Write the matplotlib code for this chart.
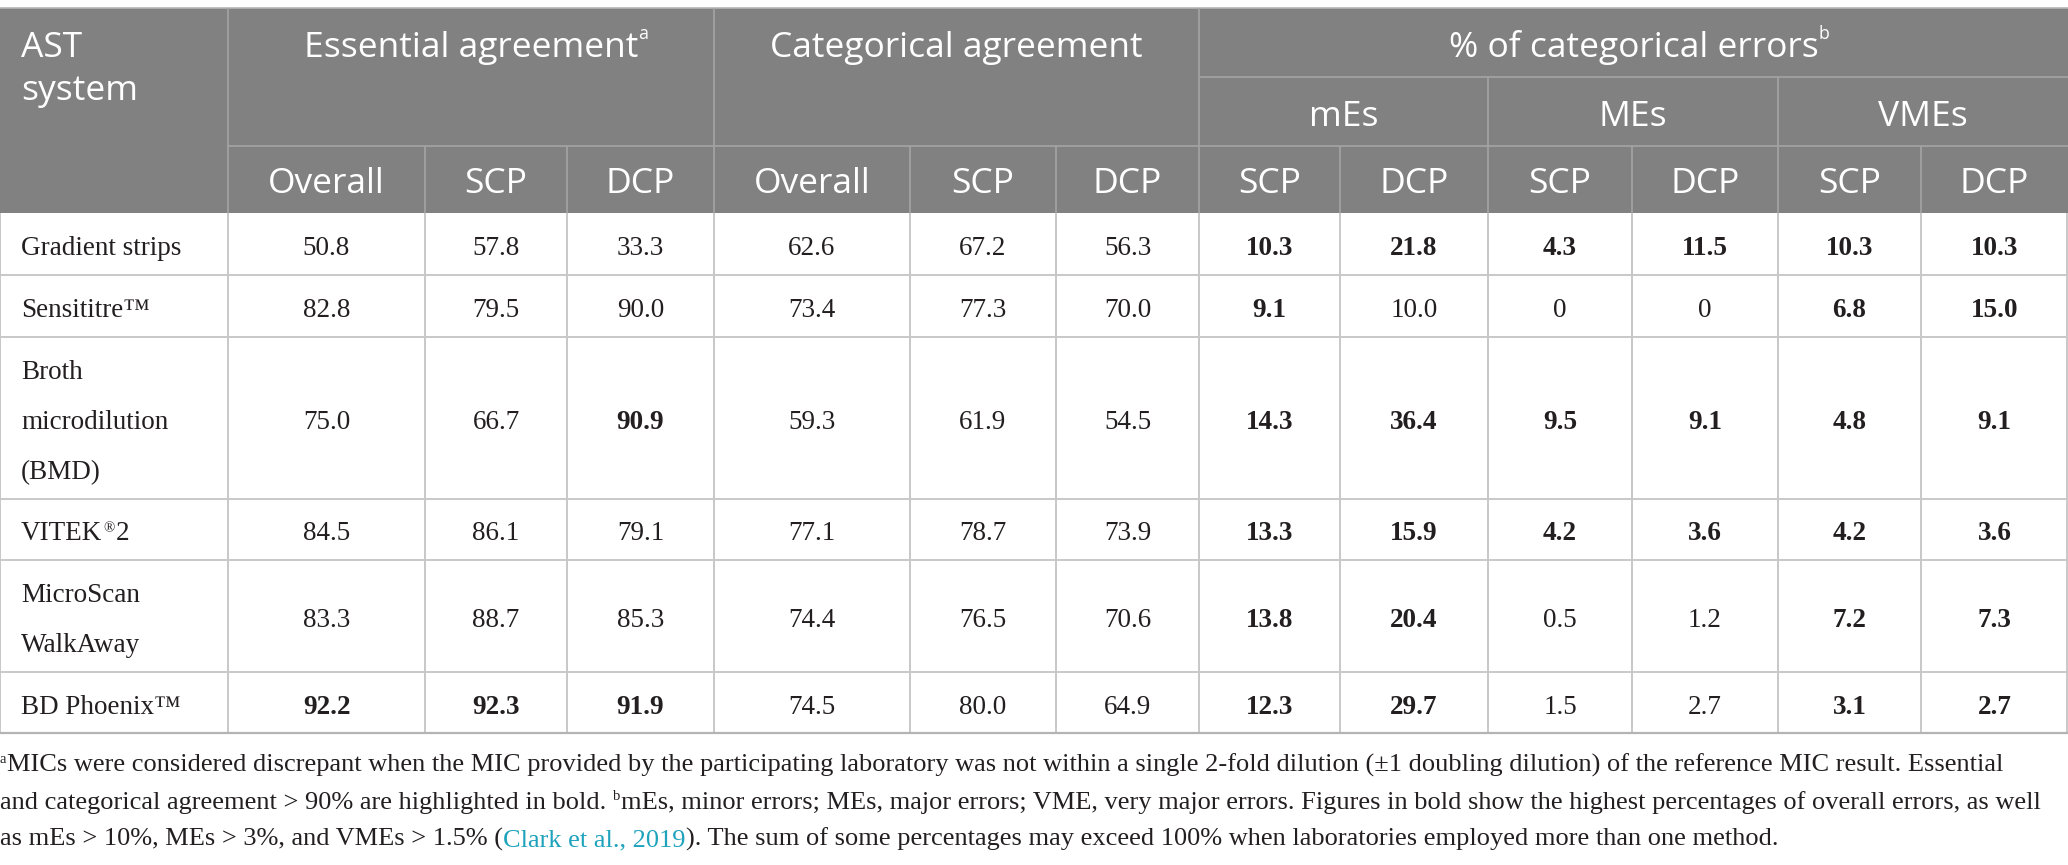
import matplotlib
matplotlib.use("Agg")
import matplotlib.pyplot as plt
from matplotlib.patches import Rectangle

# ---- data ----
systems = [["Gradient strips"], ["Sensititre™"], ["Broth", "microdilution", "(BMD)"],
           ["VITEK®2"], ["MicroScan", "WalkAway"], ["BD Phoenix™"]]

ea_all = [50.8, 82.8, 75.0, 84.5, 83.3, 92.2]
ea_scp = [57.8, 79.5, 66.7, 86.1, 88.7, 92.3]
ea_dcp = [33.3, 90.0, 90.9, 79.1, 85.3, 91.9]
ca_all = [62.6, 73.4, 59.3, 77.1, 74.4, 74.5]
ca_scp = [67.2, 77.3, 61.9, 78.7, 76.5, 80.0]
ca_dcp = [56.3, 70.0, 54.5, 73.9, 70.6, 64.9]
mes_scp = [10.3, 9.1, 14.3, 13.3, 13.8, 12.3]
mes_dcp = [21.8, 10.0, 36.4, 15.9, 20.4, 29.7]
mjr_scp = [4.3, 0, 9.5, 4.2, 0.5, 1.5]
mjr_dcp = [11.5, 0, 9.1, 3.6, 1.2, 2.7]
vme_scp = [10.3, 6.8, 4.8, 4.2, 7.2, 3.1]
vme_dcp = [10.3, 15.0, 9.1, 3.6, 7.3, 2.7]

# which cells are printed in bold
b_ea_all = [0, 0, 0, 0, 0, 1]
b_ea_scp = [0, 0, 0, 0, 0, 1]
b_ea_dcp = [0, 0, 1, 0, 0, 1]
b_ca_all = [0, 0, 0, 0, 0, 0]
b_ca_scp = [0, 0, 0, 0, 0, 0]
b_ca_dcp = [0, 0, 0, 0, 0, 0]
b_mes_scp = [1, 1, 1, 1, 1, 1]
b_mes_dcp = [1, 0, 1, 1, 1, 1]
b_mjr_scp = [1, 0, 1, 1, 0, 0]
b_mjr_dcp = [1, 0, 1, 1, 0, 0]
b_vme_scp = [1, 1, 1, 1, 1, 1]
b_vme_dcp = [1, 1, 1, 1, 1, 1]

columns = [ea_all, ea_scp, ea_dcp, ca_all, ca_scp, ca_dcp,
           mes_scp, mes_dcp, mjr_scp, mjr_dcp, vme_scp, vme_dcp]
bolds = [b_ea_all, b_ea_scp, b_ea_dcp, b_ca_all, b_ca_scp, b_ca_dcp,
         b_mes_scp, b_mes_dcp, b_mjr_scp, b_mjr_dcp, b_vme_scp, b_vme_dcp]

sub_heads = ["Overall", "SCP", "DCP", "Overall", "SCP", "DCP",
             "SCP", "DCP", "SCP", "DCP", "SCP", "DCP"]
err_heads = ["mEs", "MEs", "VMEs"]

foot1 = "MICs were considered discrepant when the MIC provided by the participating laboratory was not within a single 2-fold dilution (±1 doubling dilution) of the reference MIC result. Essential"
foot2a = "and categorical agreement > 90% are highlighted in bold."
foot2b = "mEs, minor errors; MEs, major errors; VME, very major errors. Figures in bold show the highest percentages of overall errors, as well"
foot3a = "as mEs > 10%, MEs > 3%, and VMEs > 1.5% ("
foot3b = "Clark et al., 2019"
foot3c = "). The sum of some percentages may exceed 100% when laboratories employed more than one method."

# ---- layout ----
W, H = 2068, 865
xe = [0, 228, 425, 567, 714, 910, 1056, 1199, 1340, 1488, 1632, 1778, 1921, 2068]
top, h1, h2, h3 = 8, 77, 146, 213
ye = [275, 337, 499, 560, 672, 733]

HDR = "#808180"
HLINE = "#a3a4a3"
BLINE = "#c8c8c8"
INK = "#231f20"
LINK = "#1fa3bd"
SANS = "Open Sans"
SERIF = "Liberation Serif"
HFS = 25.5
BFS = 19.5

fig = plt.figure(figsize=(W / 100, H / 100), dpi=100)
ax = fig.add_axes([0, 0, 1, 1])
ax.set_xlim(0, W)
ax.set_ylim(H, 0)
ax.axis("off")
rend = fig.canvas.get_renderer()


def width(t):
    return t.get_window_extent(rend).width


def run(x, y, parts, ha="left"):
    # parts: (text, gap_before, dict of text kwargs)
    ts = []
    for s, gap, kw in parts:
        kw = dict(kw)
        dy = kw.pop("dy", 0)
        ts.append((ax.text(0, y + dy, s, va="baseline", ha="left", **kw), gap))
    total = sum(width(t) + g for t, g in ts)
    cx = x - total / 2 if ha == "center" else x
    for t, g in ts:
        cx += g
        t.set_x(cx)
        cx += width(t)
    return total


# header background and grid
ax.add_patch(Rectangle((0, top), W, h3 - top, color=HDR, lw=0, zorder=0))
ax.hlines(top, 0, W, color="#b5b5b5", lw=1.2)
ax.hlines(h2, xe[1], W, color=HLINE, lw=1.2)
ax.hlines(h1, xe[7], W, color=HLINE, lw=1.2)
for i, x in enumerate(xe[1:-1], start=1):
    if i in (1, 4, 7):
        y0 = top
    elif i in (9, 11):
        y0 = h1
    else:
        y0 = h2
    ax.vlines(x, y0, h3, color=HLINE, lw=1.2)

hkw = dict(color="white", fontsize=HFS, family=SANS)
skw = dict(color="white", fontsize=HFS * 0.5, family=SANS)
ax.text(21, 57, "AST", va="baseline", **hkw)
ax.text(21, 100, "system", va="baseline", **hkw)

for label, sup, c0, c1 in [("Essential agreement", "a", 1, 4),
                           ("Categorical agreement", None, 4, 7),
                           ("% of categorical errors", "b", 7, 13)]:
    cx = (xe[c0] + xe[c1]) / 2
    t = ax.text(cx, h1 - 20, label, ha="center", va="baseline", **hkw)
    if sup:
        bb = t.get_window_extent(rend)
        ax.text(bb.x1, h1 - 38, sup, ha="left", va="baseline", **skw)

for k, lab in enumerate(err_heads):
    cx = (xe[7 + 2 * k] + xe[9 + 2 * k]) / 2
    ax.text(cx, h2 - 20, lab, ha="center", va="baseline", **hkw)

for j, lab in enumerate(sub_heads):
    cx = (xe[j + 1] + xe[j + 2]) / 2
    ax.text(cx, h3 - 20, lab, ha="center", va="baseline", **hkw)

# body grid
ax.vlines(xe[:-1], h3, ye[-1], color=BLINE, lw=1.4)
ax.vlines(W - 1, h3, ye[-1], color=BLINE, lw=1.4)
ax.hlines(ye[:-1], 0, W, color=BLINE, lw=1.4)
ax.hlines(ye[-1], 0, W, color="#b4b4b4", lw=1.6)

bkw = dict(color=INK, fontsize=BFS, family=SERIF)
row_top = [h3] + ye[:-1]
for r, name in enumerate(systems):
    cy = (row_top[r] + ye[r]) / 2
    n = len(name)
    for i, line in enumerate(name):
        by = cy + 11 + (i - (n - 1) / 2) * 50
        if "®" in line:
            a, b = line.split("®")
            run(21, by, [(a, 0, bkw),
                         ("®", 1, dict(bkw, fontsize=BFS * 0.55, dy=-8)),
                         (b, 1, bkw)])
        else:
            ax.text(21, by, line, va="baseline", **bkw)
    for j, (vals, bl) in enumerate(zip(columns, bolds)):
        v = vals[r]
        s = "0" if v == 0 else f"{v:.1f}"
        ax.text((xe[j + 1] + xe[j + 2]) / 2, cy + 11, s, ha="center", va="baseline",
                fontweight="bold" if bl[r] else "normal", **bkw)

# footnote, sized so the longest line fits the width like the original
probe = ax.text(0, 0, foot1, family=SERIF, fontsize=18)
probe2 = ax.text(0, 0, foot2a + " b" + foot2b, family=SERIF, fontsize=18)
ffs = min(18 * 2036 / width(probe), 18 * 2050 / width(probe2))
probe.remove()
probe2.remove()
fkw = dict(color=INK, fontsize=ffs, family=SERIF)
fsup = dict(color=INK, fontsize=ffs * 0.55, family=SERIF, dy=-9)
run(0, 772, [("a", 0, fsup), (foot1, 1, fkw)])
run(0, 809, [(foot2a, 0, fkw), ("b", ffs * 0.35, fsup), (foot2b, 1, fkw)])
run(0, 846, [(foot3a, 0, fkw), (foot3b, 0, dict(fkw, color=LINK)), (foot3c, 0, fkw)])

fig.savefig("out.png", dpi=100)
